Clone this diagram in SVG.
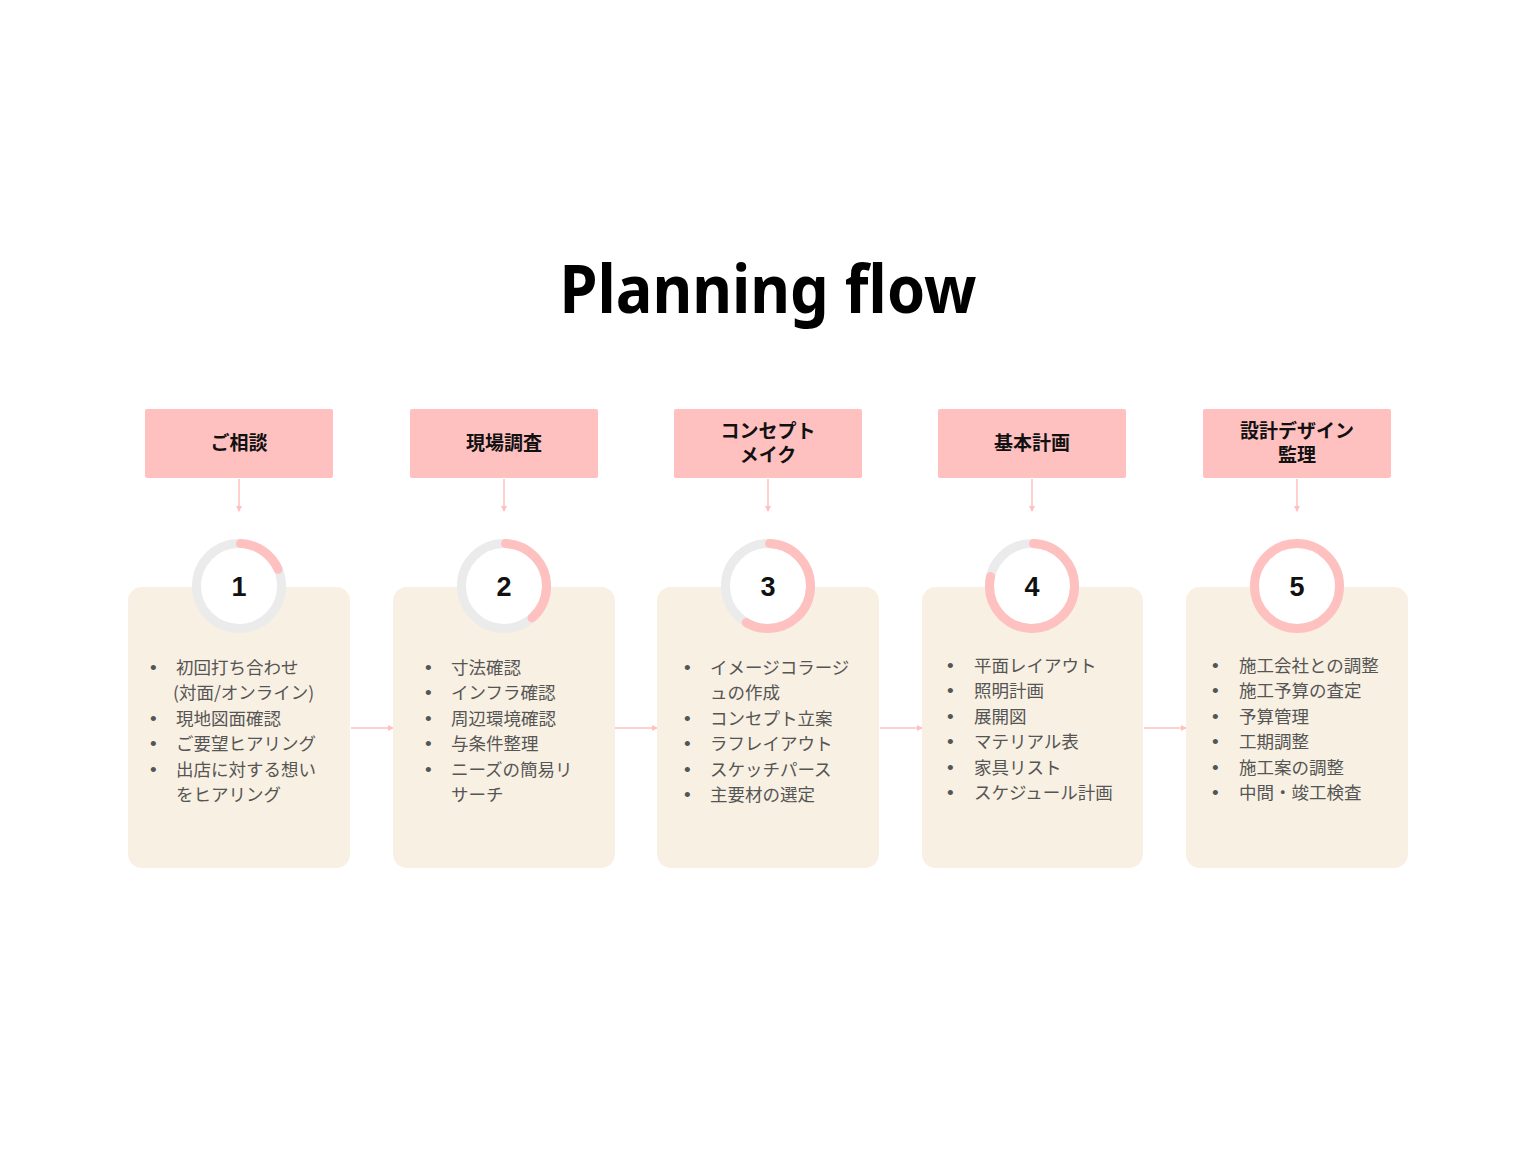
<svg xmlns="http://www.w3.org/2000/svg" width="1536" height="1152" viewBox="0 0 1536 1152">
<defs>
<style>
.hdr{fill:#FFC0C0}
.hdrt{font-family:"Noto Sans CJK JP","Noto Sans",sans-serif;font-weight:700;font-size:19px;fill:#111;text-anchor:middle}
.card{fill:#F8F0E2}
.ring{fill:#fff;stroke:#EBEBEB;stroke-width:9}
.prog{fill:none;stroke:#FFC0C0;stroke-width:9;stroke-linecap:round}
.num{font-family:"Liberation Sans","Noto Sans",sans-serif;font-weight:700;font-size:27px;fill:#111;text-anchor:middle}
.item{font-family:"Noto Sans CJK JP","Noto Sans",sans-serif;font-size:17.5px;fill:#555}
.bul{font-family:"Liberation Sans",sans-serif;font-size:19px;fill:#555}
.conn{stroke:#FFC0C0;stroke-width:1.5;fill:none}
</style>
<marker id="ah" viewBox="0 0 6 6" refX="5" refY="3" markerWidth="6" markerHeight="6" orient="auto" markerUnits="userSpaceOnUse">
<path d="M0,0 L6,3 L0,6 z" fill="#FFC0C0"/>
</marker>
</defs>
<rect width="1536" height="1152" fill="#fff"/>
<text x="768" y="313" font-family="Noto Sans, Open Sans, sans-serif" font-weight="700" font-size="67" fill="#000" text-anchor="middle" textLength="417" lengthAdjust="spacingAndGlyphs">Planning flow</text>

<g id="connectors">
<line class="conn" x1="239" y1="479" x2="239" y2="511" marker-end="url(#ah)"/>
<line class="conn" x1="504" y1="479" x2="504" y2="511" marker-end="url(#ah)"/>
<line class="conn" x1="768" y1="479" x2="768" y2="511" marker-end="url(#ah)"/>
<line class="conn" x1="1032" y1="479" x2="1032" y2="511" marker-end="url(#ah)"/>
<line class="conn" x1="1297" y1="479" x2="1297" y2="511" marker-end="url(#ah)"/>
<line class="conn" x1="351" y1="728" x2="393" y2="728" marker-end="url(#ah)"/>
<line class="conn" x1="615" y1="728" x2="657" y2="728" marker-end="url(#ah)"/>
<line class="conn" x1="880" y1="728" x2="922" y2="728" marker-end="url(#ah)"/>
<line class="conn" x1="1144" y1="728" x2="1186" y2="728" marker-end="url(#ah)"/>
</g>

<g id="step1">
<rect class="hdr" x="145" y="409" width="188" height="69" rx="2"/>
<text class="hdrt" x="239" y="450">ご相談</text>
<rect class="card" x="128" y="587" width="222" height="281" rx="14"/>
<circle class="ring" cx="239" cy="586" r="42.5"/>
<circle class="prog" cx="239" cy="586" r="42.5" pathLength="100" stroke-dasharray="18 100" transform="rotate(-88 239 586)"/>
<text class="num" x="239" y="596">1</text>
<g class="bul"><text x="150" y="674">•</text><text x="150" y="725">•</text><text x="150" y="750">•</text><text x="150" y="776">•</text></g>
<g class="item">
<text x="176" y="674">初回打ち合わせ</text>
<text x="173" y="699">(対面/オンライン)</text>
<text x="176" y="725">現地図面確認</text>
<text x="176" y="750">ご要望ヒアリング</text>
<text x="176" y="776">出店に対する想い</text>
<text x="176" y="801">をヒアリング</text>
</g>
</g>

<g id="step2">
<rect class="hdr" x="410" y="409" width="188" height="69" rx="2"/>
<text class="hdrt" x="504" y="450">現場調査</text>
<rect class="card" x="393" y="587" width="222" height="281" rx="14"/>
<circle class="ring" cx="504" cy="586" r="42.5"/>
<circle class="prog" cx="504" cy="586" r="42.5" pathLength="100" stroke-dasharray="38 100" transform="rotate(-88 504 586)"/>
<text class="num" x="504" y="596">2</text>
<g class="bul"><text x="425" y="674">•</text><text x="425" y="699">•</text><text x="425" y="725">•</text><text x="425" y="750">•</text><text x="425" y="776">•</text></g>
<g class="item">
<text x="451" y="674">寸法確認</text>
<text x="451" y="699">インフラ確認</text>
<text x="451" y="725">周辺環境確認</text>
<text x="451" y="750">与条件整理</text>
<text x="451" y="776">ニーズの簡易リ</text>
<text x="451" y="801">サーチ</text>
</g>
</g>

<g id="step3">
<rect class="hdr" x="674" y="409" width="188" height="69" rx="2"/>
<text class="hdrt" x="768" y="438">コンセプト</text>
<text class="hdrt" x="768" y="462">メイク</text>
<rect class="card" x="657" y="587" width="222" height="281" rx="14"/>
<circle class="ring" cx="768" cy="586" r="42.5"/>
<circle class="prog" cx="768" cy="586" r="42.5" pathLength="100" stroke-dasharray="58 100" transform="rotate(-88 768 586)"/>
<text class="num" x="768" y="596">3</text>
<g class="bul"><text x="684" y="674">•</text><text x="684" y="725">•</text><text x="684" y="750">•</text><text x="684" y="776">•</text><text x="684" y="801">•</text></g>
<g class="item">
<text x="710" y="674">イメージコラージ</text>
<text x="710" y="699">ュの作成</text>
<text x="710" y="725">コンセプト立案</text>
<text x="710" y="750">ラフレイアウト</text>
<text x="710" y="776">スケッチパース</text>
<text x="710" y="801">主要材の選定</text>
</g>
</g>

<g id="step4">
<rect class="hdr" x="938" y="409" width="188" height="69" rx="2"/>
<text class="hdrt" x="1032" y="450">基本計画</text>
<rect class="card" x="922" y="587" width="221" height="281" rx="14"/>
<circle class="ring" cx="1032" cy="586" r="42.5"/>
<circle class="prog" cx="1032" cy="586" r="42.5" pathLength="100" stroke-dasharray="78 100" transform="rotate(-88 1032 586)"/>
<text class="num" x="1032" y="596">4</text>
<g class="bul"><text x="947" y="672">•</text><text x="947" y="697">•</text><text x="947" y="723">•</text><text x="947" y="748">•</text><text x="947" y="774">•</text><text x="947" y="799">•</text></g>
<g class="item">
<text x="974" y="672">平面レイアウト</text>
<text x="974" y="697">照明計画</text>
<text x="974" y="723">展開図</text>
<text x="974" y="748">マテリアル表</text>
<text x="974" y="774">家具リスト</text>
<text x="974" y="799">スケジュール計画</text>
</g>
</g>

<g id="step5">
<rect class="hdr" x="1203" y="409" width="188" height="69" rx="2"/>
<text class="hdrt" x="1297" y="438">設計デザイン</text>
<text class="hdrt" x="1297" y="462">監理</text>
<rect class="card" x="1186" y="587" width="222" height="281" rx="14"/>
<circle cx="1297" cy="586" r="42.5" fill="#fff" stroke="#FFC0C0" stroke-width="9"/>
<text class="num" x="1297" y="596">5</text>
<g class="bul"><text x="1212" y="672">•</text><text x="1212" y="697">•</text><text x="1212" y="723">•</text><text x="1212" y="748">•</text><text x="1212" y="774">•</text><text x="1212" y="799">•</text></g>
<g class="item">
<text x="1239" y="672">施工会社との調整</text>
<text x="1239" y="697">施工予算の査定</text>
<text x="1239" y="723">予算管理</text>
<text x="1239" y="748">工期調整</text>
<text x="1239" y="774">施工案の調整</text>
<text x="1239" y="799">中間・竣工検査</text>
</g>
</g>
</svg>
